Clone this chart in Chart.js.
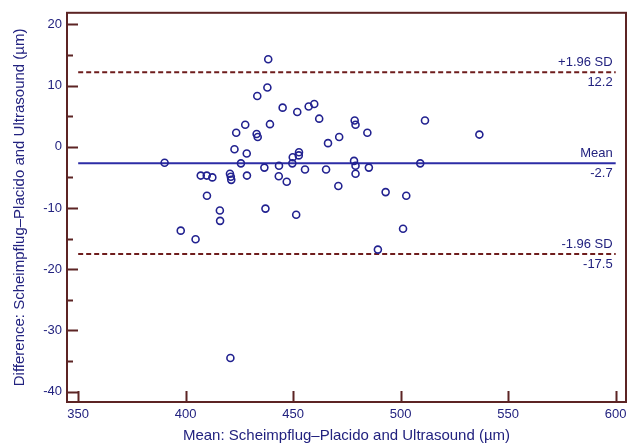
<!DOCTYPE html>
<html>
<head>
  <title>Bland-Altman: Scheimpflug-Placido vs Ultrasound</title>
  <style>
    body {
      margin: 0;
      padding: 0;
      background-color: #fff;
    }

    #container {
      width: 636px;
      height: 445px;
      position: relative;
    }
  </style>
</head>
<body>

<div id="container">
  <canvas id="myChart"></canvas>
</div>

<script src="https://cdn.jsdelivr.net/npm/chart.js"></script>
<script>
  // means (x) and differences (y)
  const meanValues = [
    390.2, 397.7, 404.6, 407.0, 409.8, 412.4, 409.9, 415.9, 416.0, 420.6,
    421.0, 421.2, 420.8, 422.7, 423.5, 425.7, 427.7, 428.4, 428.5, 433.0,
    433.5, 433.3, 436.6, 437.1, 438.0, 438.4, 439.2, 443.4, 443.3, 445.1,
    447.0, 449.6, 449.8, 451.4, 451.9, 452.6, 452.7, 455.5, 457.2, 459.8,
    462.1, 465.3, 466.2, 471.0, 471.4, 478.3, 478.6, 479.0, 479.0, 479.0,
    484.5, 485.2, 489.4, 493.0, 501.1, 502.6, 509.1, 511.3, 536.6
  ];
  const diffValues = [
    -2.6, -13.7, -15.1, -4.7, -4.7, -5.0, -8.0, -10.4, -12.1, -4.4,
    -4.9, -5.4, -34.5, -0.4, 2.3, -2.7, 3.6, -1.1, -4.7, 2.1,
    1.6, 8.3, -3.4, -10.1, 9.7, 14.3, 3.7, -3.1, -4.8, 6.4,
    -5.7, -2.7, -1.7, -11.1, 5.7, -1.4, -0.9, -3.7, 6.6, 7.0,
    4.6, -3.7, 0.6, -6.4, 1.6, -2.3, 4.3, 3.6, -3.1, -4.4,
    2.3, -3.4, -16.8, -7.4, -13.4, -8.0, -2.7, 4.3, 2.0
  ];

  // limits of agreement
  const limitNames = ['+1.96 SD', 'Mean', '-1.96 SD'];
  const limitValues = [12.2, -2.7, -17.5];

  const xTicks = [350, 400, 450, 500, 550, 600];
  const yTicks = [-40, -30, -20, -10, 0, 10, 20];
  const yMinorTicks = [-35, -25, -15, -5, 5, 15];

  const textColor = '#22227f';
  const pointColor = '#222290';
  const meanColor = '#2c2ca6';
  const sdColor = '#6e1c1c';
  const axisColor = '#5c2424';
  const fontFamily = '"Liberation Sans", Arial, sans-serif';

  const points = meanValues.map((x, i) => ({ x: x, y: diffValues[i] }));
  const xStart = xTicks[0];
  const xEnd = xTicks[xTicks.length - 1];

  const lineSets = limitValues.map((v, i) => ({
    type: 'line',
    data: [{ x: xStart, y: v }, { x: xEnd, y: v }],
    borderColor: i === 1 ? meanColor : sdColor,
    borderWidth: 2,
    borderDash: i === 1 ? [] : [5, 3],
    pointRadius: 0,
    fill: false,
    order: 2
  }));

  // draws frame, inward ticks and the limit labels
  const framePlugin = {
    id: 'frame',
    afterDatasetsDraw(chart) {
      const ctx = chart.ctx;
      const x = chart.scales.x;
      const y = chart.scales.y;
      ctx.save();
      ctx.font = '13px ' + fontFamily;
      ctx.fillStyle = textColor;
      ctx.textAlign = 'right';
      const xr = x.getPixelForValue(xEnd) - 3;
      limitValues.forEach((v, i) => {
        const py = y.getPixelForValue(v);
        ctx.textBaseline = 'bottom';
        ctx.fillText(limitNames[i], xr, py - 3);
        ctx.textBaseline = 'top';
        ctx.fillText(v.toFixed(1), xr, py + 4);
      });
      ctx.restore();
    },
    afterDraw(chart) {
      const ctx = chart.ctx;
      const a = chart.chartArea;
      const x = chart.scales.x;
      const y = chart.scales.y;
      ctx.save();
      ctx.strokeStyle = axisColor;
      ctx.lineWidth = 2;
      ctx.strokeRect(a.left, a.top, a.right - a.left, a.bottom - a.top);
      ctx.beginPath();
      yTicks.forEach(v => {
        const py = Math.round(y.getPixelForValue(v)) + 0.5;
        ctx.moveTo(a.left, py);
        ctx.lineTo(a.left + 11, py);
      });
      yMinorTicks.forEach(v => {
        const py = Math.round(y.getPixelForValue(v)) + 0.5;
        ctx.moveTo(a.left, py);
        ctx.lineTo(a.left + 6, py);
      });
      xTicks.forEach(v => {
        const px = Math.round(x.getPixelForValue(v)) + 0.5;
        ctx.moveTo(px, a.bottom);
        ctx.lineTo(px, a.bottom - 11);
      });
      ctx.stroke();
      ctx.restore();
    }
  };

  const ctx = document.getElementById('myChart').getContext('2d');
  const myChart = new Chart(ctx, {
    type: 'scatter',
    data: {
      datasets: [{
        label: 'Difference',
        data: points,
        borderColor: pointColor,
        backgroundColor: 'rgba(0,0,0,0)',
        borderWidth: 1.6,
        pointRadius: 3.5,
        order: 1
      }].concat(lineSets)
    },
    options: {
      responsive: true,
      maintainAspectRatio: false,
      animation: false,
      layout: {
        padding: { top: 8, right: 10, left: 0, bottom: 0 }
      },
      plugins: {
        legend: { display: false },
        tooltip: { enabled: false }
      },
      scales: {
        x: {
          type: 'linear',
          min: 344.8,
          max: 604.8,
          afterBuildTicks: s => { s.ticks = xTicks.map(v => ({ value: v })); },
          afterFit: s => { s.height = 43; },
          grid: { display: false, drawTicks: false },
          border: { display: false },
          ticks: {
            color: textColor,
            padding: 5,
            maxRotation: 0,
            font: { family: fontFamily, size: 13 }
          },
          title: {
            display: true,
            text: 'Mean: Scheimpflug\u2013Placido and Ultrasound (\u00b5m)',
            color: textColor,
            padding: { top: 0, bottom: 0 },
            font: { family: fontFamily, size: 15 }
          }
        },
        y: {
          type: 'linear',
          min: -41.7,
          max: 21.9,
          afterBuildTicks: s => { s.ticks = yTicks.map(v => ({ value: v })); },
          afterFit: s => { s.width = 67; },
          grid: { display: false, drawTicks: false },
          border: { display: false },
          ticks: {
            color: textColor,
            padding: 5,
            font: { family: fontFamily, size: 13 }
          },
          title: {
            display: true,
            text: 'Difference: Scheimpflug\u2013Placido and Ultrasound (\u00b5m)',
            color: textColor,
            padding: { top: 11, bottom: 0 },
            font: { family: fontFamily, size: 15 }
          }
        }
      }
    },
    plugins: [framePlugin]
  });
</script>
</body>
</html>
